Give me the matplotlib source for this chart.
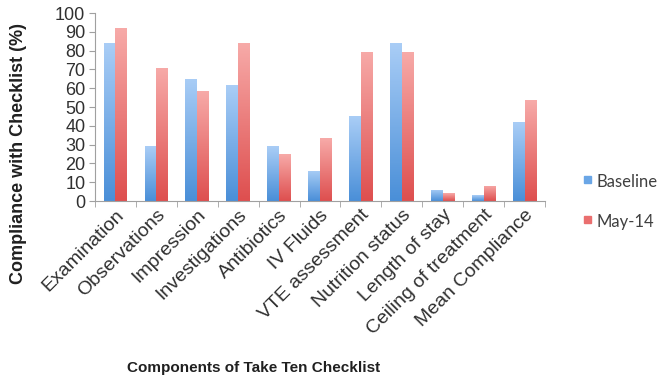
import matplotlib
matplotlib.use("Agg")
import matplotlib.pyplot as plt
import numpy as np
from matplotlib.colors import LinearSegmentedColormap
from matplotlib.patches import Rectangle
from matplotlib.transforms import ScaledTranslation

plt.rcParams['font.family'] = ['Liberation Sans', 'DejaVu Sans']

components = ["Examination", "Observations", "Impression", "Investigations",
              "Antibiotics", "IV Fluids", "VTE assessment", "Nutrition status",
              "Length of stay", "Ceiling of treatment", "Mean Compliance"]
baseline = [84, 29, 65, 61.5, 29, 16, 45, 84, 6, 3, 42]
may14 = [92, 71, 58.5, 84, 25, 33.5, 79.5, 79.5, 4, 8, 53.5]
series_names = ["Baseline", "May-14"]
yticks = list(range(0, 101, 10))

blue_map = LinearSegmentedColormap.from_list("b", ["#4a8fd8", "#a9cdf6"])
red_map = LinearSegmentedColormap.from_list("r", ["#de4f4f", "#f7aaa8"])

W, H = 662, 382
fig = plt.figure(figsize=(W/100, H/100), dpi=100)
ax = fig.add_axes([95/W, 1 - 201/H, 450/W, 188/H])

x = np.arange(len(components))
w = 0.29
grad = np.linspace(0, 1, 100).reshape(-1, 1)


def gradient_bars(xs, vals, cmap):
    bars = ax.bar(xs, vals, w, color="none", edgecolor="none")
    for b in bars:
        x0, y0 = b.get_x(), b.get_y()
        im = ax.imshow(grad, cmap=cmap, origin="lower", aspect="auto",
                       extent=[x0, x0 + b.get_width(), y0, y0 + b.get_height()],
                       zorder=2)
        im.set_clip_path(b)
    return bars


gradient_bars(x - w/2, baseline, blue_map)
gradient_bars(x + w/2, may14, red_map)

ax.set_xlim(-0.5, len(components) - 0.5)
ax.set_ylim(0, 100)
ax.set_yticks(yticks)
ax.set_yticklabels([str(v) for v in yticks], fontsize=13, color="#303030")
ax.set_xticks(x)
ax.set_xticklabels(components, rotation=45, ha="right", va="top",
                   rotation_mode="anchor", fontsize=14, color="#303030")
shift = ScaledTranslation(1/100, -13/100, fig.dpi_scale_trans)
for lab in ax.get_xticklabels():
    lab.set_transform(lab.get_transform() + shift)
ax.tick_params(axis="x", length=0, pad=4)
ax.tick_params(axis="y", length=4, color="#a0a0a0", pad=3)
# tick marks between the category groups
ax.set_xticks(np.arange(-0.5, len(components)), minor=True)
ax.tick_params(axis="x", which="minor", length=4, color="#a0a0a0")

for s in ["top", "right"]:
    ax.spines[s].set_visible(False)
for s in ["left", "bottom"]:
    ax.spines[s].set_color("#a0a0a0")

fig.text(19/W, 1 - 153/H, "Compliance with Checklist (%)", fontsize=13,
         fontweight="bold", rotation=90, ha="center", va="center",
         color="#202020")
fig.text(254/W, 1 - 368/H, "Components of Take Ten Checklist", fontsize=11,
         fontweight="bold", ha="center", va="center", color="#202020")

# legend drawn by hand on the right
legend_y = [182, 222]
legend_col = ["#6aa6e6", "#ea6f6f"]
for name, yy, col in zip(series_names, legend_y, legend_col):
    fig.add_artist(Rectangle((584/W, 1 - (yy + 1)/H), 7/W, 7/H,
                             transform=fig.transFigure, color=col))
    fig.text(596/W, 1 - yy/H, name, fontsize=12, family="Lato",
             ha="left", va="center", color="#404040")

fig.savefig("out.png", dpi=100)
